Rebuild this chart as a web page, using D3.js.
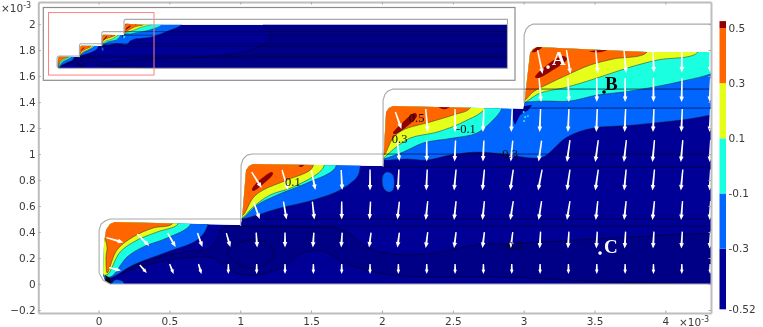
<!DOCTYPE html>
<html><head><meta charset="utf-8">
<script src="https://cdn.jsdelivr.net/npm/d3@7"></script>
<style>
html,body{margin:0;padding:0;background:#fff;overflow:hidden}
svg{display:block;filter:blur(0.35px)}
</style></head><body><svg id="c" width="763" height="327"></svg>
<script>
// ---------- axes ----------
const xDomain=[-0.425,4.322], yDomain=[-0.223,2.17];
const xTicks=[0,0.5,1,1.5,2,2.5,3,3.5,4];
const yTicks=[-0.2,0,0.2,0.4,0.6,0.8,1,1.2,1.4,1.6,1.8,2];
const barEdges=[-0.52,-0.3,-0.1,0.1,0.3,0.5,0.525];
const barLabels=[["-0.52",-0.52],["-0.3",-0.3],["-0.1",-0.1],["0.1",0.1],["0.3",0.3],["0.5",0.5]];
// ---------- geometry (x, y in units of 1e-3) ----------
const domainShape=[[.081,0],[.046,.023],[.032,.069],[.039,.315],[.053,.415],[.081,.462],[.116,.477],[1.002,.454],[1.013,.508],[1.041,.877],[1.062,.908],[1.09,.923],[2.008,.908],[2.011,.969],[2.029,1.323],[2.05,1.354],[2.078,1.369],[2.999,1.346],[3.006,1.4],[3.045,1.777],[3.066,1.808],[3.095,1.823],[3.87,1.785],[20.2,1.785],[20.2,0]];
const gasOutline=[
 [[20.2,1.785],[20.2,0],[.081,0],[.032,.031],[.004,.085],[.004,.415],[.018,.462],[.046,.485],[.081,.5],[1.003,.5]],
 [[1.003,.446],[1.006,.915],[1.02,.962],[1.048,.992],[1.083,1],[2.008,1]],
 [[2.008,.9],[2.008,1.415],[2.022,1.462],[2.043,1.485],[2.078,1.5],[3.003,1.5]],
 [[3.003,1.392],[3.003,1.915],[3.017,1.962],[3.038,1.985],[3.066,2],[20.2,2],[20.2,1.785]]];
const layerLines=[[1,.5],[1,.446],[2,1],[2,.9],[3,1.5],[3,1.354]];
const layerEnd=20.2;
// ---------- contour bands ----------
const deepRegion=[[.081,.046],[.314,.169],[.596,.246],[.787,.277],[.843,.362],[.879,.431],[1.14,.438],[1.422,.438],[1.725,.415],[1.895,.285],[2.078,.231],[2.318,.231],[2.713,.308],[2.833,.308],[4.322,.392],[6.8,.47],[8.65,.75],[9.4,1.07],[9.58,1.44],[9.24,1.785],[20.2,1.785],[20.2,0],[4.125,0],[2.833,.054],[2.078,.069],[1.775,.146],[1.584,.254],[1.514,.254],[1.422,.231],[1.33,.146],[1.119,.069],[.949,.092],[.808,.2],[.596,.2],[.314,.138]];
const deepLoop=[[.914,.246],[.998,.323],[1.14,.338],[1.225,.277],[1.225,.2],[1.119,.123],[.998,.146],[.914,.223]];
const blueLobes=[
 [[0,.56],[0,.05],[.081,.046],[.243,.146],[.483,.246],[.695,.338],[.766,.438],[.766,.56]],
 [[1,1],[1,.5],[1.02,.5],[1.119,.531],[1.281,.585],[1.514,.646],[1.704,.723],[1.824,.823],[1.845,.892],[1.845,1]],
 [[2,.96],[2.022,.954],[2.177,.962],[2.318,.954],[2.481,.992],[2.671,1.015],[2.855,1],[3.08,.969],[3.151,.985],[3.306,1.131],[3.49,1.2],[3.772,1.223],[4.315,1.3],[4.9,1.5],[5.6,1.8],[5.6,2],[2,2]],
 [[.095,0],[.116,.031],[.166,.023],[.18,0]],
 [[2.008,.838],[2.036,.862],[2.078,.838],[2.078,.723],[2.043,.708],[2.008,.746]]];
const blobNearStep=[[2.925,1.354],[3.003,1.369],[3.059,1.377],[3.031,1.338],[2.975,1.3],[2.939,1.223],[2.925,1.262]];
const cyanLobes=[
 [[0,.56],[0,.1],[.081,.054],[.201,.208],[.314,.285],[.483,.354],[.646,.454],[.646,.56]],
 [[1,1],[1,.508],[1.02,.508],[1.119,.608],[1.26,.685],[1.471,.777],[1.669,.892],[1.669,1]],
 [[2,1.5],[2,.962],[2.008,.962],[2.149,1.015],[2.29,1.085],[2.502,1.123],[2.671,1.162],[2.784,1.262],[2.847,1.354],[2.847,1.5]],
 [[3,2],[3,1.4],[3.01,1.4],[3.137,1.408],[3.327,1.408],[3.518,1.454],[3.702,1.477],[3.913,1.515],[4.153,1.569],[4.315,1.615],[4.7,1.785],[4.7,2]]];
const cyanSpecks=[[3,1.323],[3.01,1.285],[3.03,1.292],[3.003,1.254]];
const yellowLobes=[
 [[0,.56],[0,.2],[.039,.069],[.067,.077],[.152,.246],[.272,.338],[.413,.4],[.561,.462],[.561,.56]],
 [[1,1],[1,.515],[1.02,.515],[1.083,.585],[1.21,.685],[1.373,.746],[1.584,.892],[1.584,1]],
 [[2,1.5],[2,.969],[2.008,.969],[2.092,1.046],[2.198,1.123],[2.389,1.169],[2.572,1.246],[2.728,1.354],[2.728,1.5]],
 [[3,2],[3,1.4],[3.01,1.4],[3.116,1.469],[3.306,1.515],[3.518,1.585],[3.73,1.662],[3.941,1.723],[4.231,1.785],[4.231,2]]];
const orangeLobes=[
 [[0,.56],[0,.354],[.039,.354],[.06,.285],[.053,.208],[.06,.085],[.067,.092],[.13,.262],[.243,.362],[.385,.431],[.519,.462],[.519,.56]],
 [[1,1],[1,.531],[1.02,.531],[1.09,.662],[1.161,.723],[1.33,.8],[1.507,.892],[1.507,1]],
 [[2,1.5],[2,.992],[2.015,.992],[2.078,1.123],[2.149,1.185],[2.339,1.246],[2.502,1.3],[2.622,1.354],[2.622,1.5]],
 [[3,2],[3,1.415],[3.01,1.415],[3.066,1.477],[3.186,1.546],[3.306,1.608],[3.469,1.685],[3.631,1.731],[3.871,1.785],[3.871,2]]];
const redLobes=[
 [[3.08,1.592],[3.165,1.685],[3.278,1.754],[3.306,1.731],[3.186,1.631],[3.102,1.585]],
 [[3.059,1.785],[3.095,1.823],[3.13,1.823],[3.08,1.785]],
 [[3.462,1.79],[3.589,1.8],[3.539,1.783]],
 [[2.078,1.162],[2.142,1.238],[2.233,1.315],[2.247,1.292],[2.163,1.2],[2.092,1.154]],
 [[2.4,1.36],[2.48,1.36],[2.44,1.345]],
 [[1.083,.731],[1.154,.815],[1.224,.862],[1.231,.846],[1.154,.762],[1.09,.715]],
 [[1.41,.91],[1.45,.915],[1.43,.9]]];
const tipPatch=[[.046,.069],[.081,.046],[.088,.005],[.06,.01]];
// ---------- arrows ----------
const arrowColumns=[.116,.316,.516,.716,.916,1.116,1.316,1.516,1.716,1.916,2.116,2.316,2.516,2.716,2.916,3.116,3.316,3.516,3.716,3.916,4.116,4.316];
const arrowRowY=[1.708,1.492,1.258,1.023,.8,.565,.338,.115];
const arrowFirst=[15,15,10,10,5,5,0,0];
const arrowU=[
 [5,4,2,2,1,0,0],
 [2,1,0,0,0,-.5,-1],
 [6,2,0,-1,-1,-1,-1,-1,-1,-1,-1,-1],
 [2,0,-1,-1,-2,-3,-3,-3,-2.5,-2,-2,-1],
 [10,6,4,1,0,-1,-1,-2,-2,-3,-4,-3,-3,-2,-2,-2,-1],
 [6,3,2,0,-1,-2,-2,-2,-2,-3,-3,-3,-2,-2,-2,-1.5,-1],
 [17,12,8,5,4,1,0,-1,-1,-2,-2,-2,-2,-2,-2,-1,-1,-1,-1,-1,-1,-1],
 [12,7,4,3,0,0,0,0,0,0,0,0,0,0,0,0,0,0,0,0,0,0]];
const arrowV=[
 [24,24,23,22,21,21,21],
 [24,24,24,24,24,24,24],
 [17,23,23,23,23,23,23,23,23,23,23,23],
 [20,21,21,21,21,21,22,22,22,22,22,22],
 [16,20,20,20,21,21,21,21,21,21,21,21,21,21,21,21,21],
 [17,18,18,18,18,18,19,19,19,19,19,19,19,19,19,19,19],
 [5,12,14,14,14,15,15,15,15,15,15,16,16,16,16,17,17,17,17,17,17,17],
 [3,8,10,10,10,10,10,10,10,10,10,10,10,10,10,10,10,10,10,10,10,10]];
// ---------- text ----------
const pointLabels=[["A",3.2,1.685,"#fff"],["B",3.574,1.492,"#000"],["C",3.567,.238,"#fff"]];
const pointDots=[[3.172,1.669,"#fff"],[3.567,1.477,"#000"],[3.539,.238,"#fff"]];
const contourLabels=[["0.5",2.19,1.246],["0.3",2.07,1.085],["-0.1",2.523,1.162],["-0.3",2.82,.969],["0.1",1.316,.754],["-0.5",2.855,.262]];
const zoomBox=[-0.38,4.35,-0.28,2.28];
// ---------- colours ----------
const colBase="#000096",colDeep="#000086",colBlue="#0066ff",colCyan="#1affe0",colYellow="#e6ff1a",colOrange="#ff6600",colRed="#8f0000";
const barColors=[colBase,colBlue,colCyan,colYellow,colOrange,colRed];

const svg=d3.select("#c"),FONT="'DejaVu Sans',sans-serif";
const mx=d3.scaleLinear().domain(xDomain).range([38.3,711]);
const my=d3.scaleLinear().domain(yDomain).range([313,2]);

function drawField(g,x,y,id,cw){
  const line=d3.line().x(d=>x(d[0])).y(d=>y(d[1]));
  const closed=p=>line(p)+"Z";
  const smooth=d3.line().x(d=>x(d[0])).y(d=>y(d[1])).curve(d3.curveCatmullRomClosed.alpha(.5));
  svg.append("clipPath").attr("id",id).append("path").attr("d",closed(domainShape));
  const f=g.append("g").attr("clip-path",`url(#${id})`);
  f.append("path").attr("d",closed(domainShape)).attr("fill",colBase);
  f.append("path").attr("d",smooth(deepRegion)).attr("fill",colDeep).attr("stroke","#000028").attr("stroke-width",cw);
  f.append("path").attr("d",d3.line().x(d=>x(d[0])).y(d=>y(d[1])).curve(d3.curveCardinalClosed)(deepLoop)).attr("fill","none").attr("stroke","#000028").attr("stroke-width",cw);
  const bands=[[blueLobes,colBlue],[cyanLobes,colCyan],[yellowLobes,colYellow],[orangeLobes,colOrange],[redLobes,colRed]];
  bands.forEach(([lobes,c])=>{
    f.append("g").selectAll("path").data(lobes).join("path").attr("d",smooth).attr("fill",c)
      .attr("stroke",c===colRed?"none":"#222").attr("stroke-width",cw).attr("stroke-opacity",.8);
  });
  f.append("path").attr("d",closed(blobNearStep)).attr("fill",colBase);
  f.append("g").selectAll("circle").data(cyanSpecks).join("circle")
    .attr("cx",d=>x(d[0])).attr("cy",d=>y(d[1])).attr("r",cw*1.6).attr("fill",colCyan);
  f.append("path").attr("d",closed(tipPatch)).attr("fill","#000");
  g.append("g").selectAll("line").data(layerLines).join("line")
    .attr("x1",d=>x(d[0])).attr("x2",x(layerEnd)).attr("y1",d=>y(d[1])).attr("y2",d=>y(d[1]))
    .attr("stroke","#00002e").attr("stroke-width",cw*1.1);
  g.append("g").selectAll("path").data(gasOutline).join("path").attr("d",line)
    .attr("fill","none").attr("stroke","#a9a9a9").attr("stroke-width",1.1);
}

// main plot
svg.append("clipPath").attr("id","plotClip").append("rect")
  .attr("x",mx(xDomain[0])).attr("y",my(yDomain[1])).attr("width",mx(xDomain[1])-mx(xDomain[0])).attr("height",my(yDomain[0])-my(yDomain[1]));
const plot=svg.append("g").attr("clip-path","url(#plotClip)");
drawField(plot,mx,my,"mainClip",.6);

// arrows
const vec=d3.scaleLinear().domain([0,1]).range([0,1]);
const arrows=[];
arrowU.forEach((row,r)=>row.forEach((u,i)=>arrows.push({x:arrowColumns[arrowFirst[r]+i],y:arrowRowY[r],u,v:arrowV[r][i]})));
const ag=plot.append("g");
arrows.forEach(a=>{
  const cx=mx(a.x),cy=my(a.y),du=vec(a.u),dv=vec(a.v),len=Math.hypot(du,dv);
  const ux=du/len,uy=dv/len,tx=cx-du/2,ty=cy-dv/2,hx=cx+du/2,hy=cy+dv/2;
  const hl=Math.min(5.5,len*.42),hw=Math.min(2.3,len*.18),nx=hx-ux*hl,ny=hy-uy*hl,tw=.7,sw=1;
  ag.append("path").attr("fill","#fff").attr("d",
    `M${tx-uy*tw},${ty+ux*tw}L${nx-uy*sw},${ny+ux*sw}L${nx-uy*hw},${ny+ux*hw}L${hx},${hy}L${nx+uy*hw},${ny-ux*hw}L${nx+uy*sw},${ny-ux*sw}L${tx+uy*tw},${ty-ux*tw}Z`);
});

// point markers and labels
plot.append("g").selectAll("circle").data(pointDots).join("circle")
  .attr("cx",d=>mx(d[0])).attr("cy",d=>my(d[1])).attr("r",1.8).attr("fill",d=>d[2]);
plot.append("g").selectAll("text").data(pointLabels).join("text")
  .attr("x",d=>mx(d[1])).attr("y",d=>my(d[2])).text(d=>d[0]).attr("fill",d=>d[3])
  .attr("font-family","'Liberation Serif',serif").attr("font-weight","bold").attr("font-size",19);
plot.append("g").selectAll("text").data(contourLabels).join("text")
  .attr("x",d=>mx(d[1])).attr("y",d=>my(d[2])).text(d=>d[0]).attr("fill","#0a0a14")
  .attr("font-family","'Liberation Serif',serif").attr("font-size",12.5);

// axis frame
const frame=svg.append("g");
const axStyle=g=>{g.select(".domain").attr("stroke","#bdbdbd").attr("stroke-width",2);
  g.selectAll(".tick line").attr("stroke","#a8a8a8");
  g.selectAll("text").attr("fill","#3a3a3a").attr("font-family",FONT).attr("font-size",10.5);};
frame.append("g").attr("transform",`translate(0,${my(yDomain[0])})`)
  .call(d3.axisBottom(mx).tickValues(xTicks).tickFormat(d3.format("~g")).tickSizeInner(-2.5).tickSizeOuter(0).tickPadding(5)).call(axStyle);
frame.append("g").attr("transform",`translate(0,${my(yDomain[1])})`)
  .call(d3.axisTop(mx).tickValues(xTicks).tickFormat("").tickSizeInner(-2.5).tickSizeOuter(0)).call(axStyle);
frame.append("g").attr("transform",`translate(${mx(xDomain[0])},0)`)
  .call(d3.axisLeft(my).tickValues(yTicks).tickFormat(d3.format("~g")).tickSizeInner(-2.5).tickSizeOuter(0).tickPadding(2.5)).call(axStyle);
frame.append("g").attr("transform",`translate(${mx(xDomain[1])},0)`)
  .call(d3.axisRight(my).tickValues(yTicks).tickFormat("").tickSizeInner(-2.5).tickSizeOuter(0)).call(axStyle);

// exponent labels
function expo(xp,yp){
  const t=svg.append("text").attr("x",xp).attr("y",yp).attr("fill","#3a3a3a").attr("font-family",FONT).attr("font-size",10.5);
  t.append("tspan").text("×10");
  t.append("tspan").text("-3").attr("font-size",8).attr("dy",-4);
}
expo(1,12); expo(679,326);

// inset
const ix=d3.scaleLinear().domain([0,20]).range([57,503]);
const iy=d3.scaleLinear().domain([0,2]).range([68.2,19.4]);
const inset=svg.append("g");
inset.append("rect").attr("x",43.3).attr("y",7.5).attr("width",471.7).attr("height",72.8)
  .attr("fill","#fff").attr("stroke","#8c8c8c").attr("stroke-width",1.2);
drawField(inset,ix,iy,"insetClip",.45);
inset.append("rect").attr("x",ix(zoomBox[0])).attr("y",iy(zoomBox[3]))
  .attr("width",ix(zoomBox[1])-ix(zoomBox[0])).attr("height",iy(zoomBox[2])-iy(zoomBox[3]))
  .attr("fill","none").attr("stroke","#ff8080").attr("stroke-width",1);

// colour bar
const by=d3.scaleLinear().domain([-0.52,0.5]).range([309.3,28]);
const bar=svg.append("g");
bar.selectAll("rect").data(barColors).join("rect")
  .attr("x",719.5).attr("width",6.5)
  .attr("y",(d,i)=>by(barEdges[i+1])).attr("height",(d,i)=>by(barEdges[i])-by(barEdges[i+1])).attr("fill",d=>d);
bar.selectAll("text").data(barLabels).join("text")
  .attr("x",728.5).attr("y",d=>by(d[1])).attr("dy",".36em").text(d=>d[0])
  .attr("fill","#3a3a3a").attr("font-family",FONT).attr("font-size",10.5);
</script></body></html>
